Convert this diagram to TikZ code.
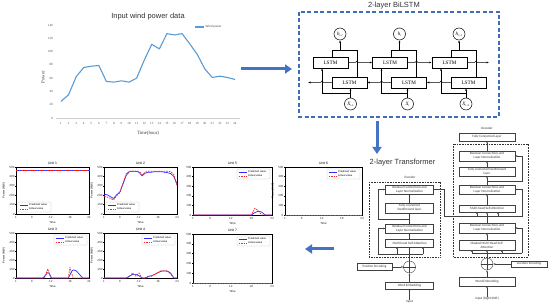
\documentclass[tikz,border=0pt]{standalone}
\usepackage{fontspec}
\setmainfont{Liberation Sans}
\newfontfamily\serifA{Liberation Serif}
\newfontfamily\calib{Carlito}
\usetikzlibrary{arrows.meta}
\definecolor{exblue}{HTML}{5B9BD5}
\definecolor{arrblue}{HTML}{4472C4}
\definecolor{dashblue}{HTML}{3F6DB8}
\definecolor{mplblue}{HTML}{2B2BFF}
\definecolor{mplred}{HTML}{FF2020}
\newcommand{\cirlbl}[2]{{\serifA\fontsize{5}{6}\selectfont\itshape #1\raisebox{-0.9pt}{\fontsize{2.8}{3}\selectfont #2}}}
\tikzset{
 charttitle/.style={font=\fontsize{7.5}{8}\selectfont, text=black!80, inner sep=0},
 exlab/.style={font=\serifA\fontsize{3.2}{3.6}\selectfont, text=black!70, inner sep=0.5pt},
 exaxis/.style={font=\serifA\fontsize{4.8}{5}\selectfont, text=black!75, inner sep=0},
 exleg/.style={font=\fontsize{3}{3.5}\selectfont, text=black!70, inner sep=0},
 exline/.style={draw=exblue, line width=1.1pt, line join=round},
 bigarrow/.style={draw=arrblue, line width=3pt, -{Triangle[length=7pt,width=9pt]}},
 lstm/.style={draw, line width=0.5pt, minimum width=35, minimum height=11, inner sep=0, font=\serifA\fontsize{5.2}{6}\selectfont},
 circ/.style={draw, circle, line width=0.5pt, minimum size=12, inner sep=0},
 bl/.style={line width=0.5pt},
 bla/.style={line width=0.5pt, -{Latex[length=2.5pt,width=2pt]}},
 tb/.style={draw=black!75, line width=0.35pt, align=center, inner sep=0pt, font=\calib\fontsize{3.3}{3.8}\selectfont, text=black!80},
 tlab/.style={font=\calib\fontsize{3.3}{3.8}\selectfont, text=black!80, inner sep=0.3pt},
 tln/.style={draw=black!75, line width=0.35pt},
 ta/.style={tln, -{Latex[length=2pt,width=1.7pt]}},
 dashbox/.style={draw=black!80, line width=0.4pt, dash pattern=on 0.8pt off 0.8pt},
 plusnode/.style={draw=black!75, line width=0.4pt, circle, minimum size=12, inner sep=0},
 pframe/.style={draw=black, line width=0.35pt},
 ptick/.style={font=\fontsize{3}{3.5}\selectfont, text=black!80, inner sep=0.4pt},
 ptitle/.style={font=\fontsize{3.4}{4}\selectfont, inner sep=0},
 paxis/.style={font=\fontsize{2.8}{3.2}\selectfont, inner sep=0},
 predline/.style={draw=mplblue, line width=0.7pt, line join=round},
 actline/.style={draw=mplred, line width=0.7pt, dash pattern=on 1.6pt off 1pt, line join=round},
 legbox/.style={draw=black!25, line width=0.25pt, fill=white, rounded corners=0.8pt},
 legtxt/.style={font=\fontsize{2.6}{3}\selectfont, inner sep=0},
}
% #1 x0, #2 y0, #3 w, #4 h, #5 title, #6 legend (0 lower-left, 1 upper-right), #7 ylabel flag, #8 pred, #9 actual
\newcommand{\uplot}[9]{%
 \begin{scope}[shift={(#1,#2+#4)}, xscale=#3/23, yscale=-#4/500]
  \draw[pframe] (0,0) rectangle (23,500);
  \foreach \tk in {1,6,12,18,24}{\draw[pframe] (\tk-1,0) -- (\tk-1,-15); \node[ptick,anchor=north] at (\tk-1,-15) {\tk};}
  \foreach \vv in {0,100,...,500}{\draw[pframe] (0,\vv) -- (-0.3,\vv); \node[ptick,anchor=east] at (-0.3,\vv) {\vv};}
  \draw[predline] plot coordinates {#8};
  \draw[actline] plot coordinates {#9};
 \end{scope}
 \node[ptitle] at (#1+#3/2,#2-3.5) {#5};
 \ifnum#7=1 \node[paxis,rotate=90] at (#1-12,#2+#4/2) {Power (MW)};\fi
 \node[paxis] at (#1+#3/2,#2+#4+8.5) {Time};
 \ifnum#6=0 \def\lgx{#1+2}\def\lgy{#2+#4-12}\else\def\lgx{#1+#3-35}\def\lgy{#2+2}\fi
 \draw[legbox] (\lgx,\lgy) rectangle ++(33,10);
 \draw[predline] (\lgx+1.5,\lgy+3) -- ++(8,0);
 \node[legtxt,anchor=west] at (\lgx+11,\lgy+3) {Predicted value};
 \draw[actline] (\lgx+1.5,\lgy+7) -- ++(8,0);
 \node[legtxt,anchor=west] at (\lgx+11,\lgy+7) {Actual value};
}
\begin{document}
\begin{tikzpicture}[x=1pt,y=-1pt]
\useasboundingbox[fill=white] (0,0) rectangle (550,307);

% ---------- input wind power chart ----------
\node[charttitle] (ctitle) at (148,17) {Input wind power data};
\begin{scope}[shift={(61,118)}, xscale=7.565, yscale=-0.6643]
 \draw[black!20, line width=0.3pt] (-0.6,0) -- (23.6,0);
 \foreach \vv in {0,20,...,140} \node[exlab, anchor=east] at (-1,\vv) {\vv};
 \foreach \tk in {1,...,24} \node[exlab, anchor=north] at (\tk-1,-6) {\tk};
 \draw[exline] plot coordinates {(0,25)(1,35)(2,62)(3,76)(4,78)(5,79)(6,55)(7,54)(8,56)(9,54)(10,60)(11,87)(12,111)(13,104)(14,127)(15,125)(16,127)(17,112)(18,96)(19,74)(20,61)(21,63)(22,61)(23,58)};
\end{scope}
\node[exaxis, rotate=90] (cpow) at (43,77) {Power};
\node[exaxis] (ctime) at (148,133) {Time(hour)};
\draw[exline] (195,27) -- (204,27);
\node[exleg, anchor=west] (cleg) at (205.5,27) {Wind power};

% ---------- big arrows ----------
\coordinate (a1s) at (241,69); \coordinate (a1e) at (292,69);
\draw[bigarrow] (a1s) -- (a1e);
\coordinate (a2s) at (377,121); \coordinate (a2e) at (377,154);
\draw[bigarrow] (a2s) -- (a2e);
\coordinate (a3s) at (334,249); \coordinate (a3e) at (305,249);
\draw[bigarrow] (a3s) -- (a3e);

% ---------- BiLSTM ----------
\node[charttitle] (bltitle) at (394,6) {2-layer BiLSTM};
\draw[draw=dashblue, line width=1.1pt, dash pattern=on 4pt off 2.5pt] (299,12) rectangle (499,117);
\foreach \i/\dx/\xx/\sub in {1/0/350.5/{t-1}, 2/59.5/407.5/t, 3/119/466/{t+1}}{
 \node[lstm] (T\i) at (330.5+\dx,62.5) {LSTM};
 \node[lstm] (B\i) at (349.5+\dx,82.5) {LSTM};
 \node[circ] (H\i) at (340+\dx,34) {\cirlbl{h}{\sub}};
 \node[circ] (X\i) at (\xx,104) {\cirlbl{X}{\sub}};
 \draw[bl] ([xshift=1.5pt]T\i.north) -- ++(0,-6) -| ([xshift=7.5pt]B\i.north);
 \coordinate (J\i) at (340+\dx,51);
 \draw[bla] (J\i) -- (H\i);
 \draw[bla] (X\i) -- (X\i |- B\i.south);
 \coordinate (K\i) at (\xx,93);
 \draw[bla] (K\i) -| ([xshift=-8.5pt]T\i.south);
}
\coordinate (fout) at (489,62.5);
\coordinate (bout) at (308,82.5);
\draw[bla] (T1.east) -- (355.5,62.5) arc[start angle=180,end angle=0,radius=1.5pt] -- (T2.west);
\draw[bla] (T2.east) -- (415,62.5) arc[start angle=180,end angle=0,radius=1.5pt] -- (T3.west);
\draw[bla] (T3.east) -- (474.5,62.5) arc[start angle=180,end angle=0,radius=1.5pt] -- (fout);
\draw[bla] (B3.west) -- (442.5,82.5) arc[start angle=0,end angle=180,radius=1.5pt] -- (B2.east);
\draw[bla] (B2.west) -- (383,82.5) arc[start angle=0,end angle=180,radius=1.5pt] -- (B1.east);
\draw[bla] (B1.west) -- (323.5,82.5) arc[start angle=0,end angle=180,radius=1.5pt] -- (bout);

% ---------- Transformer ----------
\node[charttitle] (trtitle) at (402.5,163) {2-layer Transformer};
% encoder
\node[tlab] (enclab) at (410,177) {Encoder};
\draw[dashbox] (369,182) rectangle (440,257);
\node[tb, minimum width=48, minimum height=9] (eR1) at (409.5,189.5) {Residual Connections and\\Layer Normalization};
\node[tb, minimum width=48, minimum height=10] (eFF) at (409.5,208) {Fully connected\\feedforward layer};
\node[tb, minimum width=48, minimum height=9] (eR2) at (409.5,228.5) {Residual Connections and\\Layer Normalization};
\node[tb, minimum width=48, minimum height=8] (eMH) at (409.5,243) {Multi-head Self-Attention};
\node[plusnode] (eP) at (409.5,267) {};
\draw[tln] (eP.north) -- (eP.south) (eP.west) -- (eP.east);
\node[tb, minimum width=35, minimum height=7] (ePE) at (374.5,266.5) {Position Encoding};
\node[tb, minimum width=48, minimum height=7] (eWE) at (409.5,285.5) {Word Embedding};
\node[tlab] (eIn) at (409.5,302) {Input};
\draw[ta] (eIn) -- (eWE);
\draw[ta] (eWE) -- (eP);
\draw[ta] (ePE.east |- eP) -- (eP);
\draw[ta] (eP) -- (eMH);
\coordinate (eL1) at (378,254);
\draw[tln] (eL1) -- (423,254);
\draw[ta] (397,254) -- (397,247);
\draw[ta] (423,254) -- (423,247);
\draw[ta] (eL1) |- (eR2.west);
\draw[ta] (eMH) -- (eR2);
\draw[ta] (eR2) -- (eFF);
\draw[ta] (eFF) -- (eR1);
\coordinate (eL2) at (409.5,219);
\draw[ta] (eL2) -- (378,219) |- (eR1.west);
% decoder
\node[tlab] (declab) at (487,128) {Decoder};
\node[tb, minimum width=56, minimum height=8] (dFC) at (487,137) {Fully Connected Layer};
\draw[dashbox] (453,144) rectangle (528,257);
\node[tb, minimum width=56, minimum height=10] (dR1) at (487,156) {Residual Connections and\\Layer Normalization};
\node[tb, minimum width=56, minimum height=9] (dFF) at (487,171.5) {Fully connected feedforward\\layer};
\node[tb, minimum width=56, minimum height=9] (dR2) at (487,189.5) {Residual Connections and\\Layer Normalization};
\node[tb, minimum width=56, minimum height=7] (dMH) at (487,208.5) {Multi-head Self-Attention};
\node[tb, minimum width=56, minimum height=10] (dR3) at (487,228) {Residual Connections and\\Layer Normalization};
\node[tb, minimum width=56, minimum height=10] (dMM) at (487,245) {Masked Multi-Head Self-\\Attention};
\node[plusnode] (dP) at (487,264) {};
\draw[tln] (dP.north) -- (dP.south) (dP.west) -- (dP.east);
\node[tb, minimum width=36, minimum height=6.5] (dLE) at (529,264) {Location Encoding};
\node[tb, minimum width=56, minimum height=9] (dWE) at (487,281.5) {Word Embedding};
\node[tlab] (dIn) at (487,299) {Input (Right Shift)};
\draw[ta] (dIn) -- (dWE);
\draw[ta] (dWE) -- (dP);
\draw[ta] (dLE) -- (dP);
\draw[ta] (dP) -- (dMM);
\draw[tln] (472,253) -- (522,253);
\draw[ta] (472,253) -- (472,250);
\draw[ta] (502,253) -- (502,250);
\draw[ta] (522,253) |- (dR3.east);
\draw[ta] (dMM) -- (dR3);
\draw[ta] (dR3) -- (dMH);
\draw[ta] (eR1.east) -- (444,189.5) |- (522,216) |- (dR2.east);
\draw[ta] (477,216) -- (477,212);
\draw[ta] (498,216) -- (498,212);
\draw[ta] (dMH) -- (dR2);
\draw[ta] (dR2) -- (dFF);
\draw[ta] (dFF) -- (dR1);
\coordinate (dL2) at (487,181);
\draw[ta] (dL2) -- (522,181) |- (dR1.east);
\draw[ta] (dR1) -- (dFC);

% ---------- unit plots ----------
\uplot{16}{167}{73}{47}{Unit 1}{0}{1}{(0,460)(23,460)}{(0,460)(23,460)}
\uplot{104}{167}{73}{47}{Unit 2}{0}{1}%
{(0,210)(1,205)(2,185)(3,165)(4,205)(5,235)(6,320)(7,410)(8,450)(9,455)(10,455)(11,445)(12,405)(13,435)(14,445)(15,445)(16,450)(17,450)(18,450)(19,445)(20,440)(21,430)(22,400)(23,320)}%
{(0,190)(1,180)(2,165)(3,150)(4,195)(5,225)(6,330)(7,430)(8,455)(9,455)(10,455)(11,455)(12,420)(13,445)(14,455)(15,455)(16,455)(17,455)(18,455)(19,455)(20,455)(21,450)(22,420)(23,300)}
\uplot{16}{233}{73}{45}{Unit 3}{1}{1}%
{(0,0)(8.5,0)(9.5,40)(10,60)(10.5,50)(11.2,0)(16.5,0)(17.5,70)(18,90)(19,80)(20,40)(21,0)(23,0)}%
{(0,0)(9,0)(10,100)(11,0)(16.5,0)(17,120)(18,0)(23,0)}
\uplot{104}{233}{73}{45}{Unit 4}{1}{1}%
{(0,0)(7,0)(8,20)(9,40)(10,40)(11,25)(12,0)(13,0)(14,20)(15,25)(16,40)(17,60)(18,75)(19,78)(20,75)(21,55)(22,0)(23,0)}%
{(0,0)(7,0)(8,15)(9,55)(10,20)(11,55)(12,0)(13,0)(14,10)(15,20)(16,40)(17,60)(18,80)(19,82)(20,80)(21,45)(22,0)(23,0)}
\uplot{193}{167}{79}{48}{Unit 5}{1}{0}%
{(0,0)(17,0)(18,25)(19,40)(20,30)(21,0)(23,0)}%
{(0,0)(17,0)(18,70)(19,45)(20,0)(23,0)}
\uplot{285}{167}{77}{48}{Unit 6}{1}{1}{(0,0)(23,0)}{(0,0)(23,0)}
\uplot{193}{234}{79}{49}{Unit 7}{1}{0}{(0,0)(23,0)}{(0,0)(23,0)}
\end{tikzpicture}
\end{document}
